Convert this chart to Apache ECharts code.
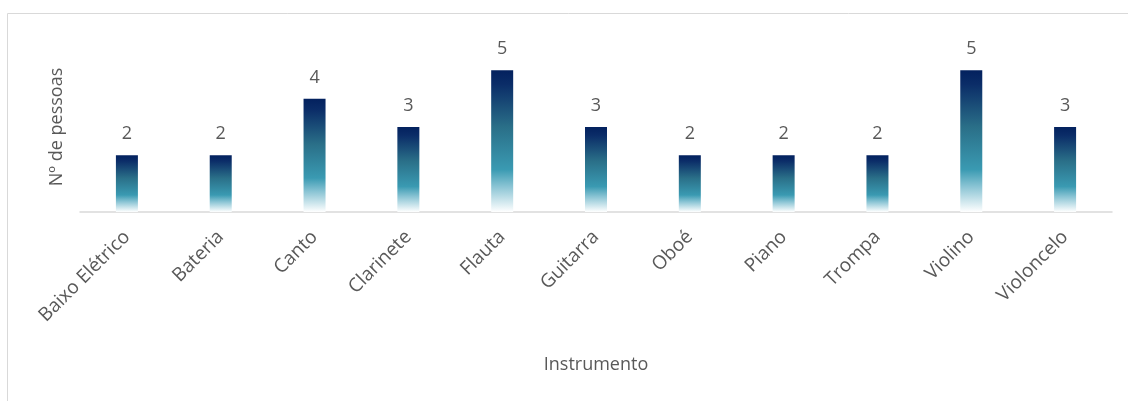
<!DOCTYPE html>
<html>
<head>
<meta charset="utf-8">
<script src="https://cdn.jsdelivr.net/npm/echarts@6/dist/echarts.min.js"></script>
<style>
  html, body { margin: 0; padding: 0; background: #fff; }
  #chart { width: 1128px; height: 401px; }
</style>
</head>
<body>
<div id="chart"></div>
<script>
// dados
const instrumentos = ["Baixo Elétrico", "Bateria", "Canto", "Clarinete", "Flauta", "Guitarra", "Oboé", "Piano", "Trompa", "Violino", "Violoncelo"];
const pessoas = [2, 2, 4, 3, 5, 3, 2, 2, 2, 5, 3];

const fonte = "'Open Sans', 'Noto Sans', sans-serif";
const cinza = "#595959";

const chart = echarts.init(document.getElementById("chart"));
chart.setOption({
  animation: false,
  graphic: [
    {
      type: "rect",
      shape: { x: 7.5, y: 13.5, width: 1130, height: 400 },
      style: { fill: "none", stroke: "#d9d9d9", lineWidth: 1 },
      z: -1
    }
  ],
  grid: { left: 80, right: 16, top: 42, bottom: 189 },
  xAxis: {
    type: "category",
    data: instrumentos,
    name: "Instrumento",
    nameLocation: "middle",
    nameGap: 144,
    nameTextStyle: { color: cinza, fontSize: 18, fontFamily: fonte },
    axisLine: { lineStyle: { color: "#d9d9d9", width: 1.5 } },
    axisTick: { show: false },
    axisLabel: { rotate: 45, color: cinza, fontSize: 19, fontFamily: fonte, margin: 22, interval: 0 }
  },
  yAxis: {
    type: "value",
    min: 0,
    max: 6,
    name: "Nº de pessoas",
    nameLocation: "middle",
    nameGap: 14,
    nameTextStyle: { color: cinza, fontSize: 18, fontFamily: fonte },
    axisLine: { show: false },
    axisTick: { show: false },
    axisLabel: { show: false },
    splitLine: { show: false }
  },
  series: [
    {
      type: "bar",
      data: pessoas,
      barWidth: 22,
      itemStyle: {
        color: new echarts.graphic.LinearGradient(0, 0, 0, 1, [
          { offset: 0, color: "#03215e" },
          { offset: 0.1, color: "#0b2d68" },
          { offset: 0.4, color: "#2a6f88" },
          { offset: 0.7, color: "#3a9ab2" },
          { offset: 0.82, color: "#8ac4d4" },
          { offset: 1, color: "#ffffff" }
        ])
      },
      label: {
        show: true,
        position: "top",
        distance: 12,
        color: cinza,
        fontSize: 18,
        fontFamily: fonte
      }
    }
  ]
});
</script>
</body>
</html>
